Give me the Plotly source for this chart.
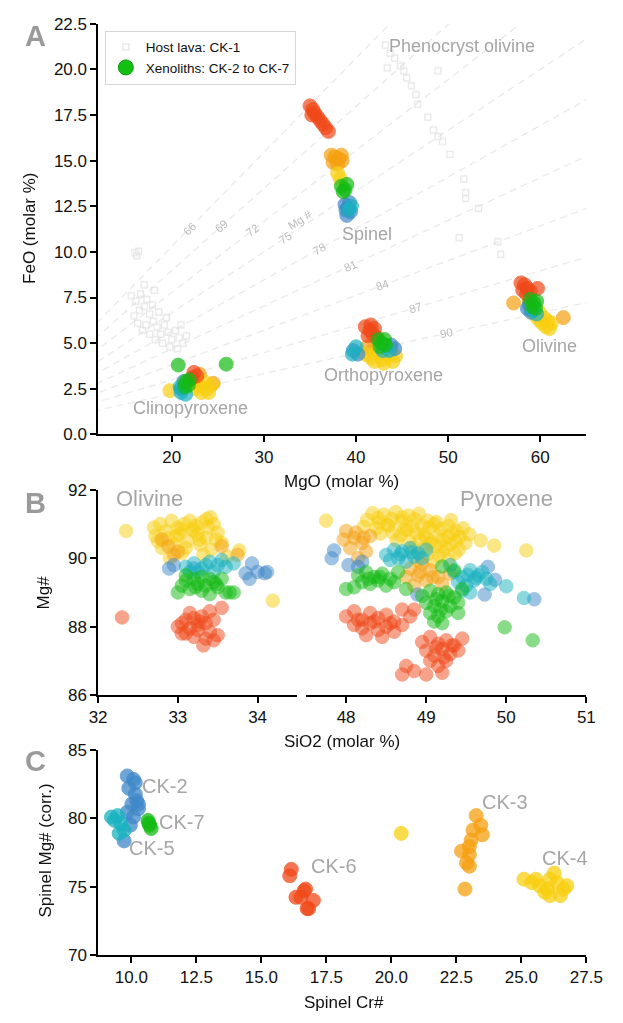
import math
import plotly.graph_objects as go

W, H = 623, 1023

# ---------------- Panel A: FeO vs MgO (molar %) ----------------
# Host lava CK-1 (groundmass cluster + phenocryst olivine trend)
ck1_mgo = [16.0, 16.4, 16.2, 15.6, 16.1, 16.6, 17.0, 17.3, 16.5, 15.9, 17.6, 18.0, 17.2, 16.8,
           18.4, 18.8, 19.2, 19.6, 20.0, 20.4, 20.8, 21.2, 21.6, 19.0, 19.8, 18.2, 17.6, 20.6,
           19.4, 18.6, 21.0, 17.9, 16.3, 17.0, 18.1,
           43.2, 43.7, 44.2, 44.8, 45.2, 45.5, 46.0, 46.5, 46.7, 47.8, 48.4, 48.9, 49.4, 50.2,
           51.7, 51.9, 51.9, 53.3, 43.4, 48.9, 51.2, 55.4, 55.7]
ck1_feo = [9.96, 10.04, 9.8, 7.6, 7.3, 7.7, 7.0, 7.4, 6.8, 6.5, 6.6, 6.2, 6.0, 5.7,
           5.9, 5.5, 6.0, 5.6, 5.2, 5.7, 5.3, 5.0, 5.4, 5.0, 4.8, 5.2, 5.5, 4.7,
           6.4, 6.7, 6.0, 7.1, 6.1, 8.2, 7.9,
           21.33, 20.89, 20.62, 20.19, 19.92, 19.54, 19.11, 18.62, 18.09, 17.39, 16.69, 16.32,
           16.05, 15.35, 14.0, 13.25, 12.93, 12.39, 20.08, 19.92, 10.78, 10.56, 9.87]

# Xenoliths (spinel, orthopyroxene, olivine, clinopyroxene analyses)
ck2_a_mgo = [38.8, 39.1, 39.4, 39.0, 39.3, 38.9, 39.7, 40.2, 43.8, 44.2, 58.6, 59.0, 58.8, 21.0, 21.3]
ck2_a_feo = [12.6, 12.4, 12.2, 12.0, 12.7, 12.3, 4.6, 4.4, 4.9, 4.7, 6.9, 6.7, 7.1, 2.5, 2.9]

ck3_a_mgo = [37.3, 37.7, 38.1, 38.5, 37.5, 38.0, 38.4, 41.2, 41.8, 57.1, 62.5, 58.8, 23.0, 24.5, 22.6]
ck3_a_feo = [15.3, 15.2, 15.1, 15.0, 14.9, 14.8, 15.3, 4.8, 4.6, 7.2, 6.4, 7.3, 3.3, 2.8, 2.9]

ck4_a_mgo = [38.0, 38.3, 41.0, 41.6, 42.2, 42.8, 43.4, 44.0, 43.0, 43.7, 42.0, 44.3,
             59.3, 59.8, 60.2, 60.6, 61.0, 60.4, 59.9, 61.2, 60.8,
             22.6, 23.2, 23.8, 24.3, 23.5, 22.9, 24.0, 19.8]
ck4_a_feo = [14.3, 14.0, 4.4, 4.2, 4.5, 4.1, 4.3, 4.0, 3.9, 4.6, 4.0, 4.3,
             6.6, 6.3, 6.1, 5.9, 5.8, 6.4, 6.7, 6.1, 6.2,
             2.5, 2.3, 2.5, 2.7, 2.9, 2.7, 2.3, 2.4]

ck5_a_mgo = [39.2, 39.5, 39.6, 40.0, 43.6, 42.9, 59.2, 59.6, 21.0, 21.5, 20.9]
ck5_a_feo = [12.3, 12.5, 4.4, 4.8, 4.6, 4.6, 6.8, 6.6, 2.3, 2.2, 2.6]

ck6_a_mgo = [35.0, 35.3, 35.5, 35.8, 36.1, 36.4, 36.7, 37.0, 35.2,
             41.0, 41.5, 42.0, 41.3, 41.8, 42.3, 41.6,
             57.9, 58.3, 58.6, 58.1, 58.5, 58.9, 59.7, 22.4, 22.7, 22.2]
ck6_a_feo = [18.0, 17.8, 17.6, 17.4, 17.2, 17.0, 16.8, 16.6, 17.5,
             5.9, 5.7, 5.8, 5.4, 5.5, 5.3, 6.0,
             8.3, 8.2, 8.0, 7.9, 7.7, 7.85, 8.0, 3.4, 3.2, 3.1]

ck7_a_mgo = [38.4, 38.8, 39.0, 38.6, 42.4, 42.8, 43.1, 42.6, 43.2,
             58.9, 59.3, 59.6, 59.1, 59.5, 21.5, 21.8, 21.9, 20.7, 25.9, 21.4]
ck7_a_feo = [13.6, 13.4, 13.7, 13.3, 5.2, 5.0, 5.2, 4.8, 4.9,
             7.4, 7.2, 7.3, 7.0, 6.9, 2.9, 2.7, 3.0, 3.8, 3.85, 2.6]

# Mg# reference lines and where their labels sit (MgO)
mg_numbers = [66, 69, 72, 75, 78, 81, 84, 87, 90]
mg_label_mgo = [21.9, 25.4, 28.8, 32.3, 36.0, 39.4, 42.9, 46.4, 49.8]

# ---------------- Panel B: Mg# vs SiO2 ----------------
ck4_ol_si = [32.70, 32.78, 32.85, 32.92, 33.00, 33.08, 33.15, 33.22, 33.30, 33.38, 33.45, 33.41,
             32.75, 32.88, 33.02, 33.12, 33.25, 33.35, 33.48, 32.80, 32.95, 33.10, 33.28, 33.42,
             32.72, 33.05, 33.32, 33.55, 33.62, 32.35, 34.19, 33.77, 32.90, 33.20, 33.50,
             33.04, 33.18, 33.27, 32.98, 33.36]
ck4_ol_mg = [90.9, 91.0, 90.8, 91.1, 90.9, 91.0, 91.1, 90.95, 91.05, 90.9, 91.0, 91.2,
             90.5, 90.6, 90.7, 90.5, 90.7, 90.6, 90.55, 90.3, 90.4, 90.3, 90.4, 90.25,
             90.65, 90.15, 90.1, 90.45, 90.05, 90.8, 88.76, 90.23, 90.0, 90.8, 90.75,
             90.85, 90.85, 90.55, 90.65, 91.15]
ck3_ol_si = [32.80, 32.95, 33.00, 33.55, 33.75, 32.88]
ck3_ol_mg = [90.55, 90.1, 90.2, 90.35, 90.1, 90.35]
ck2_ol_si = [32.89, 32.95, 33.93, 34.09, 33.85, 34.00, 34.12, 33.90, 33.20]
ck2_ol_mg = [89.7, 89.8, 89.85, 89.56, 89.56, 89.6, 89.6, 89.4, 89.7]
ck5_ol_si = [33.10, 33.20, 33.30, 33.40, 33.50, 33.60, 33.70, 33.25, 33.45, 33.15, 33.55, 33.35]
ck5_ol_mg = [89.75, 89.85, 89.7, 89.9, 89.8, 89.75, 89.85, 89.6, 89.6, 89.6, 89.95, 89.8]
ck7_ol_si = [33.00, 33.05, 33.10, 33.15, 33.20, 33.25, 33.30, 33.35, 33.40, 33.45, 33.50, 33.55,
             33.60, 33.65, 33.70, 33.40, 33.10, 33.30, 33.22, 33.48]
ck7_ol_mg = [89.0, 89.2, 89.35, 89.1, 89.4, 89.25, 89.45, 89.2, 89.4, 89.3, 89.15, 89.4,
             89.0, 89.0, 89.0, 88.95, 89.5, 89.05, 89.15, 89.25]
ck6_ol_si = [33.00, 33.05, 33.10, 33.15, 33.20, 33.25, 33.30, 33.35, 33.40, 33.45, 33.50, 33.55,
             33.10, 33.20, 33.35, 33.45, 33.32, 33.25, 33.40, 32.30, 33.15, 33.28, 33.05]
ck6_ol_mg = [88.0, 87.8, 88.2, 87.95, 88.25, 88.05, 88.3, 88.1, 87.85, 88.2, 87.75, 88.55,
             87.8, 87.7, 87.65, 87.6, 87.45, 87.9, 88.45, 88.27, 88.4, 88.15, 88.1]

ck4_px_si = [48.33, 48.47, 48.62, 48.78, 48.91, 48.40, 48.70,
             48.26, 48.41, 48.57, 48.69, 48.86, 49.02, 49.13, 49.31, 48.52, 48.95,
             48.22, 48.38, 48.53, 48.73, 48.83, 49.04, 49.18, 49.28, 49.46, 49.10, 49.38,
             48.43, 48.58, 48.68, 48.88, 48.98, 49.16, 49.33, 49.42, 49.54, 48.76,
             48.63, 48.79, 48.92, 49.07, 49.21, 49.37, 49.49, 49.00, 49.27,
             48.84, 48.97, 49.12, 49.24, 49.41, 49.05, 49.30,
             49.02, 49.16, 49.36, 48.90, 49.09, 49.28, 49.20,
             47.75, 49.68, 49.85, 50.25]
ck4_px_mg = [91.32, 91.28, 91.35, 91.25, 91.3, 91.18, 91.2,
             91.12, 91.05, 91.15, 91.08, 91.14, 91.1, 91.06, 91.12, 90.98, 90.95,
             90.92, 90.88, 90.95, 90.85, 90.93, 90.9, 90.86, 90.95, 90.88, 91.0, 90.8,
             90.72, 90.75, 90.68, 90.73, 90.7, 90.66, 90.74, 90.62, 90.7, 90.82,
             90.52, 90.5, 90.56, 90.48, 90.54, 90.5, 90.45, 90.6, 90.62,
             90.32, 90.28, 90.35, 90.3, 90.26, 90.42, 90.4,
             90.12, 90.08, 90.14, 89.92, 89.9, 89.95, 90.2,
             91.1, 90.52, 90.37, 90.23]
ck3_px_si = [48.00, 48.10, 48.20, 48.05, 48.25, 48.15, 47.97, 48.30, 48.12, 48.22,
             48.80, 48.90, 49.00, 48.85, 49.05, 49.15, 48.95, 49.20, 48.75, 49.30, 48.92, 49.08]
ck3_px_mg = [90.8, 90.6, 90.45, 90.3, 90.2, 90.0, 90.55, 90.65, 90.75, 90.6,
             89.7, 89.5, 89.35, 89.2, 89.65, 89.45, 89.85, 89.25, 89.45, 89.55, 89.6, 89.45]
ck2_px_si = [47.82, 47.85, 48.03, 48.20, 48.89, 49.77, 49.86, 50.35, 49.73, 48.15]
ck2_px_mg = [90.0, 90.23, 89.8, 89.9, 88.94, 89.75, 89.37, 88.8, 88.94, 89.75]
ck5_px_si = [48.50, 48.60, 48.70, 48.80, 48.90, 49.00, 48.55, 48.65, 48.75, 48.85, 48.95,
             49.35, 49.45, 49.55, 49.65, 49.75, 49.40, 49.50, 49.60, 49.70, 49.80, 49.45, 49.55,
             50.00, 50.22, 49.30, 48.68, 48.82, 49.52, 49.62]
ck5_px_mg = [90.1, 90.25, 90.2, 90.3, 90.15, 90.25, 89.95, 90.0, 89.9, 90.05, 90.0,
             89.6, 89.45, 89.65, 89.5, 89.4, 89.3, 89.2, 89.35, 89.6, 89.25, 89.05, 89.0,
             89.18, 88.84, 89.8, 90.12, 90.18, 89.52, 89.42]
ck7_px_si = [48.15, 48.25, 48.35, 48.45, 48.55, 48.20, 48.30, 48.40, 48.50, 48.60, 48.10, 48.65,
             48.00, 48.75, 48.28, 48.42,
             48.95, 49.05, 49.15, 49.25, 49.35, 49.00, 49.10, 49.20, 49.30, 49.40, 49.05, 49.15,
             49.25, 49.20, 49.10, 49.40, 49.45, 49.12, 49.28, 49.18,
             49.98, 50.33, 49.20, 49.35]
ck7_px_mg = [89.5, 89.6, 89.45, 89.55, 89.4, 89.3, 89.25, 89.35, 89.2, 89.3, 89.15, 89.6,
             89.1, 89.1, 89.4, 89.45,
             88.9, 89.05, 88.95, 89.0, 88.85, 88.7, 88.6, 88.75, 88.6, 88.7, 88.4, 88.3,
             88.45, 88.1, 88.15, 88.4, 89.1, 88.8, 88.9, 88.5,
             87.98, 87.6, 89.76, 89.65]
ck6_px_si = [48.00, 48.10, 48.20, 48.30, 48.40, 48.50, 48.60, 48.10, 48.20, 48.30, 48.40, 48.50,
             48.60, 48.70, 48.80, 48.25, 48.45, 48.85, 48.70, 48.15, 48.35, 48.55,
             48.95, 49.05, 49.15, 49.25, 49.35, 49.00, 49.10, 49.20, 49.30, 49.40, 49.05, 49.15,
             49.25, 48.75, 48.70, 48.85, 49.00, 49.20, 49.45, 49.12, 49.22, 49.32]
ck6_px_mg = [88.3, 88.45, 88.2, 88.4, 88.25, 88.35, 88.15, 88.05, 87.95, 88.1, 87.9, 88.0,
             87.85, 88.05, 88.3, 87.75, 87.7, 88.5, 88.5, 88.2, 88.15, 88.1,
             87.55, 87.7, 87.5, 87.6, 87.45, 87.3, 87.15, 87.35, 87.2, 87.3, 87.0, 86.85,
             87.0, 86.85, 86.6, 86.7, 86.6, 86.65, 87.65, 87.4, 87.1, 87.45]

# ---------------- Panel C: spinel Mg# (corr.) vs spinel Cr# ----------------
ck2_sp_cr = [9.84, 10.08, 9.90, 10.15, 10.20, 10.02, 10.27, 9.84, 10.08, 9.72, 9.96, 10.15, 10.27]
ck2_sp_mg = [83.1, 82.85, 82.2, 81.77, 81.3, 81.05, 80.7, 80.45, 80.1, 78.35, 79.5, 82.6, 81.05]
ck5_sp_cr = [9.23, 9.47, 9.60, 9.72, 9.53, 9.35]
ck5_sp_mg = [80.1, 80.2, 79.6, 79.14, 78.9, 79.85]
ck7_sp_cr = [10.64, 10.70, 10.76, 10.67]
ck7_sp_mg = [79.85, 79.5, 79.26, 79.65]
ck6_sp_cr = [16.15, 16.09, 16.33, 16.64, 16.76, 16.70, 16.52, 17.00, 16.82]
ck6_sp_mg = [76.27, 75.8, 74.23, 74.7, 73.4, 74.83, 74.23, 74.0, 73.4]
ck3_sp_cr = [23.26, 23.44, 23.14, 23.50, 23.07, 23.00, 22.70, 23.00, 22.89, 23.00, 22.83]
ck3_sp_mg = [80.2, 79.5, 79.14, 78.8, 78.42, 77.94, 77.6, 77.34, 76.74, 76.5, 74.83]
ck4_sp_cr = [20.38, 25.10, 25.40, 25.70, 26.00, 26.26, 26.38, 26.63, 26.10, 26.50, 25.90, 25.56,
             26.10, 26.75]
ck4_sp_mg = [78.9, 75.55, 75.3, 75.07, 74.83, 76.0, 75.3, 74.83, 74.35, 74.35, 74.6, 75.55,
             75.55, 75.07]

sample_colors = {
    "CK-2": "#3f88c9",
    "CK-3": "#f5a010",
    "CK-4": "#f8cf10",
    "CK-5": "#19b2c0",
    "CK-6": "#f04818",
    "CK-7": "#14bb14",
}

# ---------------- layout helpers ----------------
def fx(px):
    return px / W


def fy(py):
    return 1 - py / H


X0, X1 = 93, 602.5
TEXT_GRAY = "#a6a6a6"
FONT = "Liberation Sans, Arial, sans-serif"

fig = go.Figure()


def dots(x, y, color, xa, ya, size, opacity, name=None):
    fig.add_trace(go.Scatter(
        x=x, y=y, mode="markers", xaxis=xa, yaxis=ya,
        marker=dict(size=size, color=color, opacity=opacity,
                    line=dict(width=1, color=color)),
        showlegend=False, hoverinfo="skip", name=name))


# Mg# lines from the origin in panel A
for m in mg_numbers:
    r = (100 - m) / m
    fig.add_trace(go.Scatter(
        x=[0, 70], y=[0, 70 * r], mode="lines", xaxis="x", yaxis="y",
        line=dict(color="#ebebeb", width=1.4, dash="7px,5px"),
        showlegend=False, hoverinfo="skip"))

# Host lava
fig.add_trace(go.Scatter(
    x=ck1_mgo, y=ck1_feo, mode="markers", xaxis="x", yaxis="y",
    marker=dict(symbol="square-open", size=6, color="#dadada",
                line=dict(width=1.2, color="#dadada")),
    opacity=0.7, name="Host lava: CK-1", showlegend=True, hoverinfo="skip"))
# Legend entry for the xenolith samples
fig.add_trace(go.Scatter(
    x=[None], y=[None], mode="markers", xaxis="x", yaxis="y",
    marker=dict(size=15, color="#11c011", line=dict(width=1, color="#0a9a0a")),
    name="Xenoliths: CK-2 to CK-7", showlegend=True))

panel_a = [("CK-3", ck3_a_mgo, ck3_a_feo), ("CK-4", ck4_a_mgo, ck4_a_feo),
           ("CK-2", ck2_a_mgo, ck2_a_feo), ("CK-5", ck5_a_mgo, ck5_a_feo),
           ("CK-6", ck6_a_mgo, ck6_a_feo), ("CK-7", ck7_a_mgo, ck7_a_feo)]
for s, x, y in panel_a:
    dots(x, y, sample_colors[s], "x", "y", 14, 0.7, s)

panel_b = [("CK-4", ck4_ol_si, ck4_ol_mg, ck4_px_si, ck4_px_mg),
           ("CK-3", ck3_ol_si, ck3_ol_mg, ck3_px_si, ck3_px_mg),
           ("CK-2", ck2_ol_si, ck2_ol_mg, ck2_px_si, ck2_px_mg),
           ("CK-5", ck5_ol_si, ck5_ol_mg, ck5_px_si, ck5_px_mg),
           ("CK-7", ck7_ol_si, ck7_ol_mg, ck7_px_si, ck7_px_mg),
           ("CK-6", ck6_ol_si, ck6_ol_mg, ck6_px_si, ck6_px_mg)]
for s, xo, yo, xp, yp in panel_b:
    dots(xo, yo, sample_colors[s], "x2", "y2", 13.5, 0.5, s)
    dots(xp, yp, sample_colors[s], "x3", "y3", 13.5, 0.5, s)

panel_c = [("CK-2", ck2_sp_cr, ck2_sp_mg), ("CK-5", ck5_sp_cr, ck5_sp_mg),
           ("CK-7", ck7_sp_cr, ck7_sp_mg), ("CK-6", ck6_sp_cr, ck6_sp_mg),
           ("CK-3", ck3_sp_cr, ck3_sp_mg), ("CK-4", ck4_sp_cr, ck4_sp_mg)]
for s, x, y in panel_c:
    dots(x, y, sample_colors[s], "x4", "y4", 14, 0.75, s)

axis_style = dict(showline=True, linecolor="black", linewidth=1.5, ticks="outside",
                  ticklen=6, tickwidth=1.5, tickcolor="black", showgrid=False,
                  zeroline=False, tickfont=dict(size=17, color="#111", family=FONT))

A_TOP, A_BOT = 15, 433.5
B_TOP, B_BOT = 490, 699
C_TOP, C_BOT = 755, 964
B_SPLIT_L, B_SPLIT_R = 301, 310

fig.update_layout(
    width=W, height=H, margin=dict(l=0, r=0, t=0, b=0),
    plot_bgcolor="white", paper_bgcolor="white",
    font=dict(family=FONT, color="#111"),
    xaxis=dict(domain=[fx(X0), fx(X1)], range=[12, 65], tickvals=[20, 30, 40, 50, 60],
               anchor="y", **axis_style),
    yaxis=dict(domain=[fy(A_BOT), fy(A_TOP)], range=[0, 22.5], dtick=2.5, tickformat=".1f",
               anchor="x", **axis_style),
    xaxis2=dict(domain=[fx(X0), fx(B_SPLIT_L)], range=[32, 34.5], tickvals=[32, 33, 34],
                anchor="y2", **axis_style),
    yaxis2=dict(domain=[fy(B_BOT), fy(B_TOP)], range=[86, 92], tickvals=[86, 88, 90, 92],
                anchor="x2", **axis_style),
    xaxis3=dict(domain=[fx(B_SPLIT_R), fx(X1)], range=[47.5, 51], tickvals=[48, 49, 50, 51],
                anchor="y3", **axis_style),
    yaxis3=dict(domain=[fy(B_BOT), fy(B_TOP)], range=[86, 92], anchor="x3",
                visible=False, showgrid=False, zeroline=False),
    xaxis4=dict(domain=[fx(X0), fx(X1)], range=[8.72, 27.5],
                tickvals=[10, 12.5, 15, 17.5, 20, 22.5, 25, 27.5], tickformat=".1f",
                anchor="y4", **axis_style),
    yaxis4=dict(domain=[fy(C_BOT), fy(C_TOP)], range=[70, 85], tickvals=[70, 75, 80, 85],
                anchor="x4", **axis_style),
    legend=dict(x=fx(100), y=fy(22), xanchor="left", yanchor="top",
                bordercolor="#d6d6d6", borderwidth=1, bgcolor="white",
                font=dict(size=13.5, color="#111", family=FONT),
                itemsizing="trace", tracegroupgap=2),
)

ann = []


def label(text, x, y, xref="paper", yref="paper", size=17, color="#111", angle=0,
          bold=False, xanchor="center", yanchor="middle"):
    ann.append(dict(text=f"<b>{text}</b>" if bold else text, x=x, y=y, xref=xref, yref=yref,
                    showarrow=False, textangle=angle, xanchor=xanchor, yanchor=yanchor,
                    font=dict(size=size, color=color, family=FONT)))


# Axis titles
label("FeO (molar %)", fx(22), fy(224), angle=-90)
label("MgO (molar %)", fx(347), fy(481))
label("Mg#", fx(37), fy(594), angle=-90)
label("SiO2 (molar %)", fx(347), fy(746))
label("Spinel Mg# (corr.)", fx(38), fy(857), angle=-90)
label("Spinel Cr#", fx(350), fy(1012))

# Panel letters
label("A", fx(28), fy(28), size=29, color="#9a9a9a", bold=True)
label("B", fx(28), fy(503), size=29, color="#9a9a9a", bold=True)
label("C", fx(28), fy(766), size=29, color="#9a9a9a", bold=True)

# Mineral names
label("Phenocryst olivine", 51.5, 21.3, "x", "y", size=18, color=TEXT_GRAY)
label("Spinel", 41.2, 11.0, "x", "y", size=18, color=TEXT_GRAY)
label("Orthopyroxene", 43.0, 3.25, "x", "y", size=18, color=TEXT_GRAY)
label("Olivine", 61.0, 4.85, "x", "y", size=18, color=TEXT_GRAY)
label("Clinopyroxene", 22.0, 1.45, "x", "y", size=18, color=TEXT_GRAY)
label("Olivine", 32.2, 91.75, "x2", "y2", size=22, color=TEXT_GRAY, xanchor="left")
label("Pyroxene", 50.0, 91.75, "x3", "y3", size=22, color=TEXT_GRAY)

# Sample names in panel C
for txt, cx, cy in [("CK-2", 10.35, 82.4), ("CK-7", 11.0, 79.7), ("CK-5", 9.85, 77.8),
                    ("CK-6", 16.85, 76.5), ("CK-3", 23.4, 81.2), ("CK-4", 25.7, 77.1)]:
    label(txt, cx, cy, "x4", "y4", size=20, color=TEXT_GRAY, xanchor="left")

# Mg# labels along the reference lines
px_per_x = (X1 - X0) / (65 - 12)
px_per_y = (A_BOT - A_TOP) / 22.5
for m, xm in zip(mg_numbers, mg_label_mgo):
    r = (100 - m) / m
    ang = math.degrees(math.atan(r * px_per_y / px_per_x))
    label(str(m), xm, xm * r, "x", "y", size=11.5, color="#bcbcbc", angle=-ang)
ang75 = math.degrees(math.atan((25 / 75) * px_per_y / px_per_x))
label("Mg #", 33.9, 11.75, "x", "y", size=11.5, color="#bcbcbc", angle=-ang75)

fig.update_layout(annotations=ann)

fig.write_html("out.html", post_script="document.body.style.margin='0';")
